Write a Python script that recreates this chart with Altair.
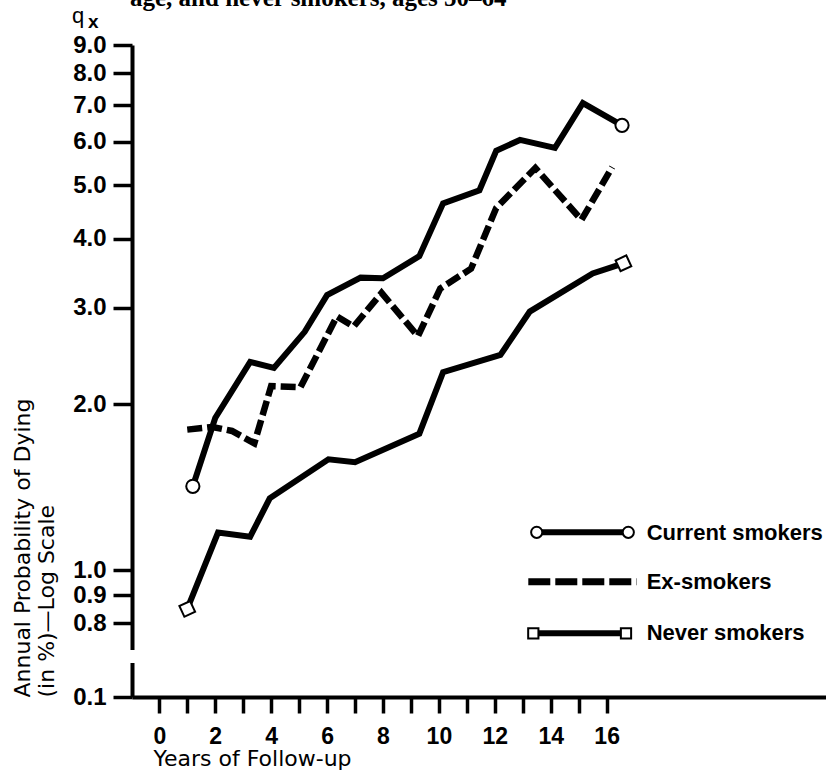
import altair as alt
import pandas as pd

# ---------------- data ----------------
series_names = ["Current smokers", "Ex-smokers", "Never smokers"]

cur_years = [1.2, 2.0, 3.25, 4.1, 5.2, 6.0, 7.2, 8.0, 9.3, 10.15, 11.45, 12.05, 12.9, 14.15, 15.15, 16.55]
cur_q = [1.42, 1.89, 2.39, 2.33, 2.71, 3.16, 3.40, 3.39, 3.72, 4.64, 4.90, 5.78, 6.05, 5.85, 7.06, 6.43]

ex_years = [1.0, 1.9, 2.6, 3.4, 4.0, 5.05, 6.35, 6.95, 7.95, 9.25, 10.05, 11.15, 12.05, 13.45, 15.1, 16.2]
ex_q = [1.80, 1.82, 1.79, 1.70, 2.16, 2.15, 2.89, 2.77, 3.19, 2.66, 3.25, 3.53, 4.55, 5.38, 4.33, 5.40]

nev_years = [1.0, 2.1, 3.25, 3.95, 6.05, 7.0, 9.3, 10.15, 12.2, 13.25, 15.5, 16.6]
nev_q = [0.85, 1.17, 1.15, 1.35, 1.59, 1.57, 1.77, 2.29, 2.46, 2.95, 3.46, 3.61]

x_tick_values = list(range(0, 17))
y_tick_values = [0.8, 0.9, 1.0, 2.0, 3.0, 4.0, 5.0, 6.0, 7.0, 8.0, 9.0]
axis_floor_label = "0.1"   # label printed at the broken bottom of the log axis

caption = "age, and never smokers, ages 50\u201364"
x_title = "Years of Follow-up"
y_title = ["Annual Probability of Dying", "(in %)\u2014Log Scale"]

# ---------------- layout constants ----------------
W, H = 694, 652
X_DOMAIN = [-0.976, 23.845]
Y_FLOOR = 0.588          # value at the bottom edge (axis break, labelled 0.1)
Y_TOP = 9.0

df = pd.DataFrame({
    "series": [series_names[0]] * len(cur_years) + [series_names[1]] * len(ex_years) + [series_names[2]] * len(nev_years),
    "year": cur_years + ex_years + nev_years,
    "q": cur_q + ex_q + nev_q,
})

ends_cur = pd.DataFrame({"year": [cur_years[0], cur_years[-1]], "q": [cur_q[0], cur_q[-1]]})
ends_nev = pd.DataFrame({"year": [nev_years[0], nev_years[-1]], "q": [nev_q[0], nev_q[-1]]})

x_enc = alt.X(
    "year:Q",
    scale=alt.Scale(domain=X_DOMAIN, nice=False, zero=False),
    axis=alt.Axis(
        values=x_tick_values,
        labelExpr="datum.value % 2 === 0 ? datum.label : ''",
        grid=False, domainWidth=4, domainColor="black",
        tickSize=16, tickWidth=3.5, tickColor="black",
        labelFont="Liberation Sans", labelFontSize=23, labelFontWeight="bold",
        labelColor="black", labelPadding=12, labelOverlap=False, labelFlush=False,
        title=x_title, titleFont="DejaVu Sans", titleFontSize=22, titleFontWeight="normal",
        titleColor="black", titleAlign="left", titleBaseline="alphabetic",
        titleX=21, titleY=68,
    ),
)

y_enc = alt.Y(
    "q:Q",
    scale=alt.Scale(type="log", domain=[Y_FLOOR, Y_TOP], nice=False, zero=False),
    axis=alt.Axis(
        values=[Y_FLOOR] + y_tick_values,
        labelExpr=f"datum.value < 0.7 ? '{axis_floor_label}' : format(datum.value, '.1f')",
        grid=False, domainWidth=4, domainColor="black",
        tickSize=19, tickWidth=3.5, tickColor="black",
        labelFont="Liberation Sans", labelFontSize=24, labelFontWeight="bold",
        labelColor="black", labelPadding=7, labelOverlap=False, labelFlush=False,
        title=y_title, titleFont="DejaVu Sans", titleFontSize=22, titleFontWeight="normal",
        titleColor="black", titleAngle=270, titleAlign="left", titleBaseline="alphabetic",
        titleLineHeight=24, titleX=-103, titleY=H,
    ),
)

base = alt.Chart(df)

solid = base.transform_filter(alt.datum.series != series_names[1]).mark_line(
    color="black", strokeWidth=6
).encode(x=x_enc, y=y_enc, detail="series:N")

dashed = base.transform_filter(alt.datum.series == series_names[1]).mark_line(
    color="black", strokeWidth=6.5, strokeDash=[15, 5]
).encode(x=x_enc, y=y_enc)

circles = alt.Chart(ends_cur).mark_point(
    shape="circle", filled=True, fill="white", stroke="black", strokeWidth=2, size=175, opacity=1
).encode(x=x_enc, y=y_enc)

squares = alt.Chart(ends_nev).mark_point(
    shape="square", filled=True, fill="white", stroke="black", strokeWidth=2, size=140, angle=335, opacity=1
).encode(x=x_enc, y=y_enc)

one = pd.DataFrame({"k": [0]})

# axis break in the y axis line
axis_break = alt.Chart(one).mark_rule(color="white", strokeWidth=9).encode(
    x=alt.value(0), y=alt.value(605), y2=alt.value(618)
)

# ---------------- manual legend (pixel layout) ----------------
legend_layers = []
# row 1: current smokers
legend_layers.append(alt.Chart(one).mark_rule(color="black", strokeWidth=6).encode(
    x=alt.value(404.7), x2=alt.value(496.3), y=alt.value(487.3)))
for xx in (404.7, 496.3):
    legend_layers.append(alt.Chart(one).mark_point(
        shape="circle", filled=True, fill="white", stroke="black", strokeWidth=2, size=125, opacity=1
    ).encode(x=alt.value(xx), y=alt.value(487.3)))
# row 2: ex-smokers
legend_layers.append(alt.Chart(one).mark_rule(color="black", strokeWidth=7, strokeDash=[22, 5]).encode(
    x=alt.value(396.3), x2=alt.value(504.7), y=alt.value(536.7)))
# row 3: never smokers
legend_layers.append(alt.Chart(one).mark_rule(color="black", strokeWidth=6).encode(
    x=alt.value(401.3), x2=alt.value(494.0), y=alt.value(588.3)))
for xx in (401.3, 494.0):
    legend_layers.append(alt.Chart(one).mark_point(
        shape="square", filled=True, fill="white", stroke="black", strokeWidth=2, size=105, opacity=1
    ).encode(x=alt.value(xx), y=alt.value(588.3)))
for name, yy in zip(series_names, (487.5, 536.5, 587.5)):
    legend_layers.append(alt.Chart(one).mark_text(
        align="left", baseline="middle", font="Liberation Sans", fontSize=22, fontWeight="bold",
        color="black", text=name
    ).encode(x=alt.value(514.7), y=alt.value(yy)))

# ---------------- q_x symbol and cut caption ----------------
q_text = alt.Chart(one).mark_text(
    align="left", baseline="alphabetic", font="Liberation Sans", fontSize=22, color="black", text="q"
).encode(x=alt.value(-60), y=alt.value(-22))
x_sub = alt.Chart(one).mark_text(
    align="left", baseline="alphabetic", font="Liberation Sans", fontSize=19, fontWeight="bold",
    color="black", text="x"
).encode(x=alt.value(-44), y=alt.value(-17))
cap_text = alt.Chart(one).mark_text(
    align="left", baseline="alphabetic", font="Liberation Serif", fontSize=25, fontWeight="bold",
    color="black", text=caption
).encode(x=alt.value(-2), y=alt.value(-39))

chart = alt.layer(
    solid, dashed, circles, squares, axis_break, *legend_layers, q_text, x_sub, cap_text
).properties(
    width=W, height=H,
    autosize=alt.AutoSizeParams(type="none"),
    padding={"left": 132, "top": 45, "right": 0, "bottom": 81},
    background="white",
).configure_view(stroke="transparent")

chart.save("out.html", embed_options={"renderer": "svg", "actions": False})
